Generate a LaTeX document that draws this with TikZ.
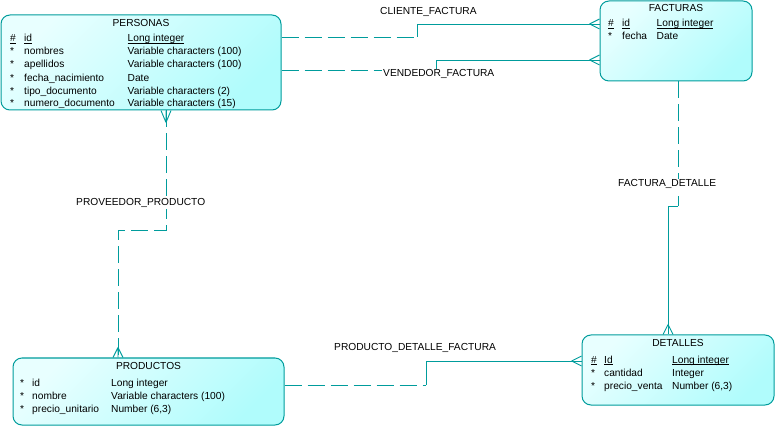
\documentclass[tikz,border=0pt]{standalone}
\usepackage{fontspec}
\setmainfont{Liberation Sans}
\usetikzlibrary{calc}
\definecolor{lineC}{RGB}{0,156,156}
\definecolor{fillA}{RGB}{232,255,255}
\definecolor{fillB}{RGB}{176,252,252}
\newcommand\ulx[1]{\underline{\smash{#1}}}
\tikzset{
  entity/.style={draw=lineC, line width=1pt, rounded corners=9pt, rectangle, inner sep=0pt,
    top color=fillA, bottom color=fillB, shading angle=45},
  txt/.style={anchor=base west, inner sep=0pt, font=\fontsize{10.2}{12}\selectfont},
  ttl/.style={anchor=base, inner sep=0pt, font=\fontsize{10.2}{12}\selectfont},
  lbl/.style={anchor=base west, inner sep=1pt, fill=white, font=\fontsize{10.2}{12}\selectfont},
  rel/.style={draw=lineC, line width=0.9pt},
  reldash/.style={draw=lineC, line width=0.9pt, dash pattern=on 17pt off 6pt},
}
\begin{document}
\begin{tikzpicture}[x=1pt,y=-1pt]
\useasboundingbox (0,0) rectangle (776,427);

% entities
\node[entity, minimum width=280pt, minimum height=95pt] (personas) at (141,62.5) {};
\node[entity, minimum width=152pt, minimum height=80pt] (facturas) at (676,41) {};
\node[entity, minimum width=271pt, minimum height=67pt] (productos) at (148.5,391.5) {};
\node[entity, minimum width=192pt, minimum height=70pt] (detalles) at (678,370) {};

% PERSONAS text
\node[ttl] (pt) at (141,27) {PERSONAS};
\node[txt] (p1a) at (10,42) {\ulx{\#}};
\node[txt] (p1b) at (24,42) {\ulx{id}};
\node[txt] (p1c) at (127.5,42) {\ulx{Long integer}};
\node[txt] (p2a) at (10,55) {*};
\node[txt] (p2b) at (24,55) {nombres};
\node[txt] (p2c) at (127.5,55) {Variable characters (100)};
\node[txt] (p3a) at (10,68) {*};
\node[txt] (p3b) at (24,68) {apellidos};
\node[txt] (p3c) at (127.5,68) {Variable characters (100)};
\node[txt] (p4a) at (10,81.5) {*};
\node[txt] (p4b) at (24,81.5) {fecha\_nacimiento};
\node[txt] (p4c) at (127.5,81.5) {Date};
\node[txt] (p5a) at (10,94.3) {*};
\node[txt] (p5b) at (24,94.3) {tipo\_documento};
\node[txt] (p5c) at (127.5,94.3) {Variable characters (2)};
\node[txt] (p6a) at (10,107) {*};
\node[txt] (p6b) at (24,107) {numero\_documento};
\node[txt] (p6c) at (127.5,107) {Variable characters (15)};

% FACTURAS text
\node[ttl] (ft) at (676,12) {FACTURAS};
\node[txt] (f1a) at (608,27) {\ulx{\#}};
\node[txt] (f1b) at (622,27) {\ulx{id}};
\node[txt] (f1c) at (656.5,27) {\ulx{Long integer}};
\node[txt] (f2a) at (608,40) {*};
\node[txt] (f2b) at (622,40) {fecha};
\node[txt] (f2c) at (656.5,40) {Date};

% PRODUCTOS text
\node[ttl] (prt) at (148.5,370) {PRODUCTOS};
\node[txt] (r1a) at (20,386) {*};
\node[txt] (r1b) at (32,386) {id};
\node[txt] (r1c) at (111,386) {Long integer};
\node[txt] (r2a) at (20,399) {*};
\node[txt] (r2b) at (32,399) {nombre};
\node[txt] (r2c) at (111,399) {Variable characters (100)};
\node[txt] (r3a) at (20,412) {*};
\node[txt] (r3b) at (32,412) {precio\_unitario};
\node[txt] (r3c) at (111,412) {Number (6,3)};

% DETALLES text
\node[ttl] (dt) at (678,347) {DETALLES};
\node[txt] (d1a) at (591,363) {\ulx{\#}};
\node[txt] (d1b) at (604,363) {\ulx{Id}};
\node[txt] (d1c) at (672,363) {\ulx{Long integer}};
\node[txt] (d2a) at (591,376) {*};
\node[txt] (d2b) at (604,376) {cantidad};
\node[txt] (d2c) at (672,376) {Integer};
\node[txt] (d3a) at (591,389) {*};
\node[txt] (d3b) at (604,389) {precio\_venta};
\node[txt] (d3c) at (672,389) {Number (6,3)};

% CLIENTE_FACTURA
\coordinate (c1) at (personas.east |- 0,37);
\coordinate (c2) at (417,37);
\coordinate (c3) at (417,24);
\coordinate (c4) at (facturas.west |- 0,24);
\draw[reldash] (c1) -- (c2);
\draw[rel] (c2) -- (c3) -- (c4);
\draw[rel] ($(c4)+(-10,0)$) -- ($(c4)+(0,-5)$) ($(c4)+(-10,0)$) -- ($(c4)+(0,5)$);
\node[lbl] (lc) at (379,15) {CLIENTE\_FACTURA};

% VENDEDOR_FACTURA
\coordinate (v1) at (personas.east |- 0,70);
\coordinate (v2) at (436,70);
\coordinate (v3) at (436,60);
\coordinate (v4) at (facturas.west |- 0,60);
\draw[reldash] (v1) -- (v2);
\draw[rel] (v2) -- (v3) -- (v4);
\draw[rel] ($(v4)+(-10,0)$) -- ($(v4)+(0,-5)$) ($(v4)+(-10,0)$) -- ($(v4)+(0,5)$);
\node[lbl] (lv) at (382,77) {VENDEDOR\_FACTURA};

% PROVEEDOR_PRODUCTO
\coordinate (q1) at (personas.south -| 166,0);
\coordinate (q2) at (166,230);
\coordinate (q3) at (118,230);
\coordinate (q4) at (productos.north -| 118,0);
\draw[reldash] (q1) -- (q2) -- (q3) -- (q4);
\draw[rel] ($(q1)+(0,12)$) -- ($(q1)+(-5,0)$) ($(q1)+(0,12)$) -- ($(q1)+(5,0)$) ($(q1)+(0,12)$) -- (q1);
\draw[rel] ($(q4)+(0,-10)$) -- ($(q4)+(-5,0)$) ($(q4)+(0,-10)$) -- ($(q4)+(5,0)$) ($(q4)+(0,-10)$) -- (q4);
\node[lbl] (lq) at (75,206) {PROVEEDOR\_PRODUCTO};

% FACTURA_DETALLE
\coordinate (g1) at (facturas.south -| 678,0);
\coordinate (g2) at (678,206);
\coordinate (g3) at (668,206);
\coordinate (g4) at (detalles.north -| 668,0);
\draw[reldash] (g1) -- (g2);
\draw[rel] (g2) -- (g3) -- (g4);
\draw[rel] ($(g4)+(0,-10)$) -- ($(g4)+(-5,0)$) ($(g4)+(0,-10)$) -- ($(g4)+(5,0)$);
\node[lbl] (lg) at (617,187) {FACTURA\_DETALLE};

% PRODUCTO_DETALLE_FACTURA
\coordinate (h1) at (productos.east |- 0,385);
\coordinate (h2) at (426,385);
\coordinate (h3) at (426,361);
\coordinate (h4) at (detalles.west |- 0,361);
\draw[reldash] (h1) -- (h2);
\draw[rel] (h2) -- (h3) -- (h4);
\draw[rel] ($(h4)+(-10,0)$) -- ($(h4)+(0,-5)$) ($(h4)+(-10,0)$) -- ($(h4)+(0,5)$);
\node[lbl] (lh) at (333,351) {PRODUCTO\_DETALLE\_FACTURA};
\end{tikzpicture}
\end{document}
